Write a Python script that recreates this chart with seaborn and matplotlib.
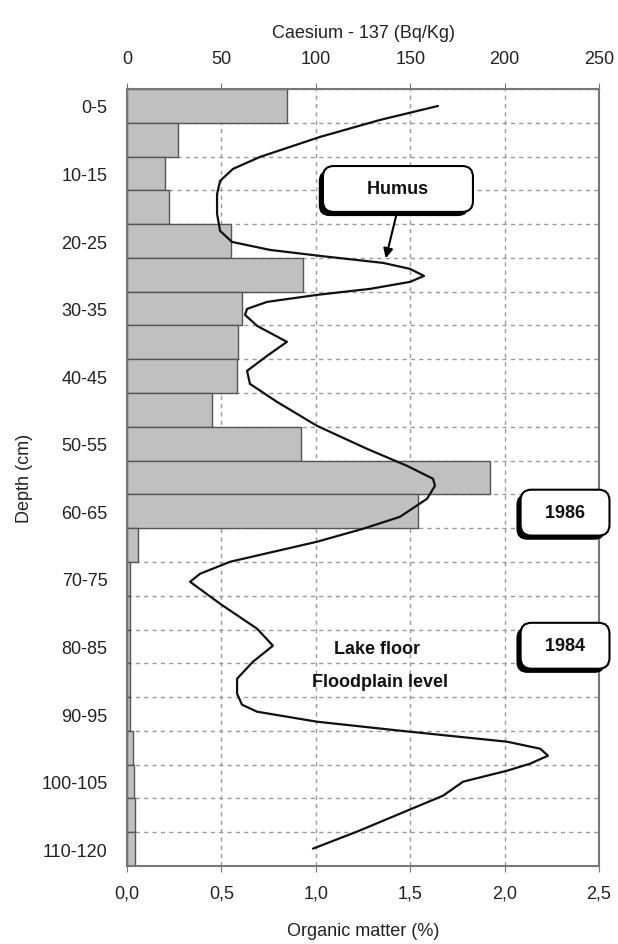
import numpy as np
import matplotlib
matplotlib.use("Agg")
import matplotlib.pyplot as plt
import matplotlib.patheffects as pe
import seaborn as sns

# Depth slices (rows) and Caesium-137 activity per slice (Bq/Kg)
rows = ["0-5", "5-10", "10-15", "15-20", "20-25", "25-30", "30-35", "35-40",
        "40-45", "45-50", "50-55", "55-60", "60-65", "65-70", "70-75", "75-80",
        "80-85", "85-90", "90-95", "95-100", "100-105", "105-110", "110-120"]
cs137 = [85, 27, 20, 22, 55, 93, 61, 59, 58, 45, 92, 192, 154, 6,
         1.5, 1.5, 1.5, 1.5, 1.5, 3, 3.5, 4, 4.5]

# Organic matter profile (%); depth in row units from the surface
om_pct = [1.647, 1.340, 1.022, 0.704, 0.561, 0.493, 0.477, 0.477, 0.493, 0.556,
          0.757, 1.022, 1.356, 1.499, 1.573, 1.499, 1.287, 1.006, 0.742, 0.636,
          0.625, 0.689, 0.847, 0.742, 0.636, 0.651, 0.794, 1.006, 1.271, 1.483,
          1.621, 1.631, 1.589, 1.446, 1.250, 1.006, 0.546, 0.387, 0.334, 0.493,
          0.689, 0.773, 0.667, 0.583, 0.583, 0.609, 0.689, 1.006, 1.446, 2.013,
          2.188, 2.230, 2.135, 2.013, 1.780, 1.674, 1.446, 1.218, 0.985]
om_depth = [0.503, 0.917, 1.420, 2.012, 2.367, 2.722, 3.107, 3.698, 4.201, 4.527,
            4.763, 4.941, 5.148, 5.325, 5.533, 5.710, 5.917, 6.095, 6.302, 6.509,
            6.686, 7.012, 7.485, 7.899, 8.343, 8.728, 9.260, 9.970, 10.651, 11.154,
            11.538, 11.746, 12.130, 12.663, 13.018, 13.402, 13.994, 14.349, 14.586, 15.237,
            15.976, 16.479, 16.953, 17.456, 17.899, 18.225, 18.432, 18.728, 18.994, 19.320,
            19.527, 19.734, 19.970, 20.178, 20.503, 20.917, 21.450, 21.982, 22.485]

cs_ticks = [0, 50, 100, 150, 200, 250]
om_ticks = [0.0, 0.5, 1.0, 1.5, 2.0, 2.5]
om_ticklabels = ["0,0", "0,5", "1,0", "1,5", "2,0", "2,5"]

sns.set_style("white")
plt.rcParams["font.family"] = ["Liberation Sans", "DejaVu Sans"]
plt.rcParams["font.size"] = 13

fig = plt.figure(figsize=(6.18, 9.45), dpi=100)
ax = fig.add_axes([0.2055, 0.0825, 0.7638, 0.8223])
ax2 = ax.twiny()

# Caesium bars on the top axis
sns.barplot(x=cs137, y=rows, orient="h", color="#c0c0c0", saturation=1,
            edgecolor="#555555", linewidth=1.0, width=1.0, ax=ax, zorder=2)
ax.set_ylim(len(rows) - 0.5, -0.5)
ax.set_xlim(0, 250)
ax.set_xticks(cs_ticks)
ax.xaxis.tick_top()
ax.xaxis.set_label_position("top")
ax.set_xlabel("Caesium - 137 (Bq/Kg)", labelpad=9, color="#222222")
ax.tick_params(axis="x", which="major", length=4, pad=12, colors="#777777",
               labelcolor="#222222")

ax.set_yticks(range(0, len(rows), 2))
ax.set_yticklabels(rows[::2], color="#222222")
ax.set_yticks(np.arange(-0.5, len(rows), 1), minor=True)
ax.tick_params(axis="y", which="major", length=0, pad=14)
ax.tick_params(axis="y", which="minor", length=5, color="#777777")
ax.set_ylabel("Depth (cm)", labelpad=6, color="#222222")

ax.set_axisbelow(True)
ax.grid(axis="x", which="major", color="#9a9a9a", linestyle=(0, (3, 3)), linewidth=1)
ax.grid(axis="y", which="minor", color="#9a9a9a", linestyle=(0, (3, 3)), linewidth=1)
ax.grid(axis="y", which="major", visible=False)
for s in ax.spines.values():
    s.set_color("#777777")
    s.set_linewidth(1.5)

# Organic matter curve on the bottom axis
line_y = [d - 0.5 for d in om_depth]  # rows are centred on integer positions
sns.lineplot(x=om_pct, y=line_y, sort=False, estimator=None, color="#111111",
             linewidth=1.6, ax=ax2, solid_joinstyle="round")
ax2.set_xlim(0, 2.5)
ax2.set_ylim(len(rows) - 0.5, -0.5)
ax2.xaxis.tick_bottom()
ax2.xaxis.set_label_position("bottom")
ax2.set_xticks(om_ticks)
ax2.set_xticklabels(om_ticklabels)
ax2.set_xlabel("Organic matter (%)", labelpad=15, color="#222222")
ax2.tick_params(axis="x", length=4, pad=9, colors="#777777", labelcolor="#222222")
for s in ax2.spines.values():
    s.set_visible(False)


def shadow_box(text, xy, fontsize=13):
    # white rounded box with a dark drop shadow to the lower left
    t = ax2.annotate(text, xy=xy, ha="center", va="center", fontsize=fontsize,
                     fontweight="bold", color="#111111", annotation_clip=False,
                     bbox=dict(boxstyle="round,pad=0.8,rounding_size=0.6",
                               fc="white", ec="black", lw=1.5))
    t.get_bbox_patch().set_path_effects([
        pe.SimplePatchShadow(offset=(-3, -3), shadow_rgbFace="black", alpha=1),
        pe.Normal()])
    return t


ax2.annotate("", xy=(1.367, 4.59), xytext=(1.43, 3.15),
             arrowprops=dict(arrowstyle="-|>", color="black", lw=1.5,
                             mutation_scale=14))
shadow_box("      Humus      ", (1.435, 2.46))
shadow_box("  1986  ", (2.32, 12.04))
shadow_box("  1984  ", (2.32, 15.98))

ax2.text(1.324, 16.07, "Lake floor", ha="center", va="center", fontsize=13,
         fontweight="bold", color="#111111")
ax2.text(1.34, 17.04, "Floodplain level", ha="center", va="center", fontsize=13,
         fontweight="bold", color="#111111")

fig.savefig("out.png", dpi=100)
